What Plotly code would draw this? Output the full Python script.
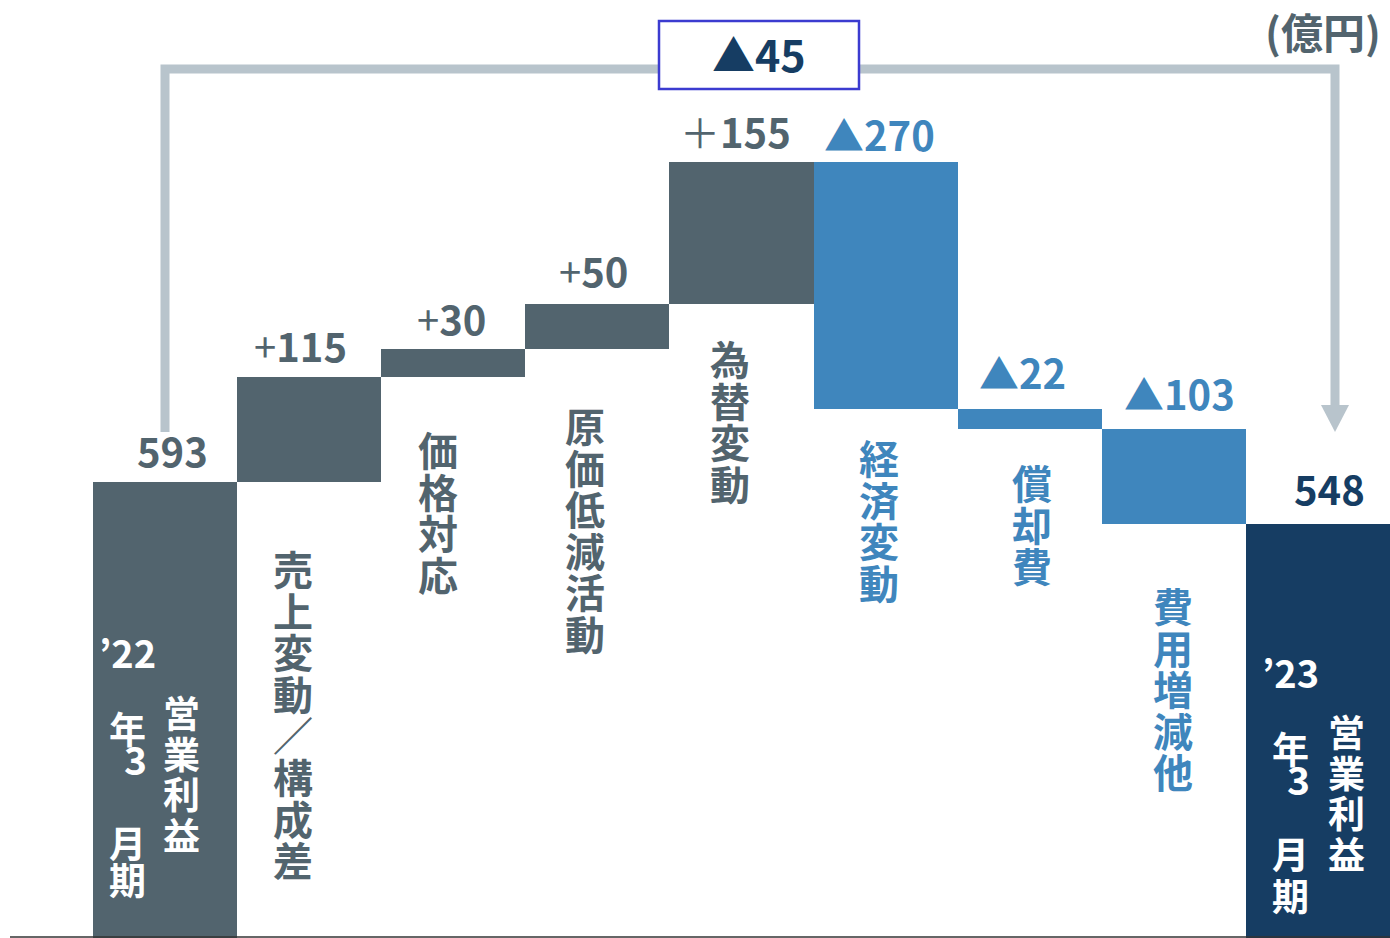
import plotly.graph_objects as go

# ---------------- data ----------------
categories = ["’22年3月期営業利益", "売上変動／構成差", "価格対応", "原価低減活動",
              "為替変動", "経済変動", "償却費", "費用増減他", "’23年3月期営業利益"]
start_value = 593
deltas = [115, 30, 50, 155, -270, -22, -103]
end_value = 548
value_labels = ["593", "+115", "+30", "+50", "＋155", "▲270", "▲22", "▲103", "548"]
total_change_label = "▲45"
unit_label = "(億円)"

# ---------------- styles ----------------
GRAY = "#52646e"
BLUE = "#3f86bd"
NAVY = "#163d63"
BRACKET = "#b8c4cc"
BOXLINE = "#3b3bd0"
FONT = "Noto Sans CJK JP"
W, H = 1390, 938

# waterfall geometry from the data
bases, heights, colors = [0], [start_value], [GRAY]
cum = start_value
for d in deltas:
    if d >= 0:
        bases.append(cum); heights.append(d); colors.append(GRAY)
    else:
        bases.append(cum + d); heights.append(-d); colors.append(BLUE)
    cum += d
bases.append(0); heights.append(end_value); colors.append(NAVY)
tops = [b + h for b, h in zip(bases, heights)]
xs = list(range(len(categories)))

fig = go.Figure()
fig.add_trace(go.Bar(x=xs, y=heights, base=bases, width=1.0,
                     marker=dict(color=colors, line=dict(width=0)),
                     hoverinfo="skip"))


def px(x):
    return x / W


def py(y):
    return 1 - y / H


annotations = []
label_colors = [GRAY] * 5 + [BLUE] * 3 + [NAVY]
label_dx = [7, -9, -2, -4, -6, -6, -7, 6, 12]
label_dy = [32, 32, 31, 34, 31, 28, 37, 36, 36]
for i, (t, top) in enumerate(zip(value_labels, tops)):
    if t[0] in "+＋":
        txt = t[0] + "<b>" + t[1:] + "</b>"
    else:
        txt = "<b>" + t + "</b>"
    annotations.append(dict(x=i, y=top, xref="x", yref="y", text=txt, showarrow=False,
                            xanchor="center", yanchor="middle",
                            xshift=label_dx[i], yshift=label_dy[i],
                            font=dict(family=FONT, size=40, color=label_colors[i])))


def vtext(chars, x, y0, pitch, color, size, weight="bold"):
    for k, ch in enumerate(chars):
        annotations.append(dict(x=px(x), y=py(y0 + k * pitch), xref="paper", yref="paper",
                                text=ch, showarrow=False, xanchor="center", yanchor="middle",
                                font=dict(family=FONT, size=size, color=color, weight=weight)))


# vertical category labels (outside bars)
cat_pos = {1: (293, 568), 2: (438, 449), 3: (585, 425), 4: (730, 358),
           5: (879, 457), 6: (1032, 482), 7: (1173, 605)}
for i, (x, y0) in cat_pos.items():
    vtext(list(categories[i]), x, y0, 41.6, label_colors[i], 40)


# labels inside the total bars
def inside_label(name, x_left, x_right, y_year, y_nen, y_3, y_tsuki, y_ki, y_ei):
    year = name[:3]
    annotations.append(dict(x=px(x_left), y=py(y_year), xref="paper", yref="paper",
                            text=year, showarrow=False, xanchor="center", yanchor="middle",
                            font=dict(family=FONT, size=38, color="white", weight="bold")))
    vtext([name[3]], x_left, y_nen, 0, "white", 37)
    vtext([name[4]], x_left + 8, y_3, 0, "white", 39)
    vtext([name[5]], x_left, y_tsuki, 0, "white", 37)
    vtext([name[6]], x_left, y_ki, 0, "white", 37)
    vtext(list(name[7:]), x_right, y_ei, 40.5, "white", 37)


inside_label(categories[0], 127, 181, 651, 728, 758, 842, 879, 712)
inside_label(categories[8], 1290, 1346, 671, 748, 778, 853, 895, 731)

# total change box and unit
annotations.append(dict(x=px(759), y=py(53), xref="paper", yref="paper",
                        text="<b>" + total_change_label + "</b>", showarrow=False,
                        xanchor="center", yanchor="middle",
                        font=dict(family=FONT, size=43, color=NAVY)))
annotations.append(dict(x=px(1323), y=py(30), xref="paper", yref="paper",
                        text="<b>" + unit_label + "</b>", showarrow=False,
                        xanchor="center", yanchor="middle",
                        font=dict(family=FONT, size=42, color=GRAY)))

shapes = [
    # bracket line
    dict(type="path", xref="paper", yref="paper",
         path=f"M {px(165)} {py(432)} L {px(165)} {py(69)} L {px(1335)} {py(69)} L {px(1335)} {py(406)}",
         line=dict(color=BRACKET, width=9), layer="above"),
    dict(type="path", xref="paper", yref="paper",
         path=f"M {px(1321)} {py(405)} L {px(1349)} {py(405)} L {px(1335)} {py(432)} Z",
         fillcolor=BRACKET, line=dict(width=0), layer="above"),
    # box
    dict(type="rect", xref="paper", yref="paper", x0=px(659), x1=px(859), y0=py(89), y1=py(21),
         fillcolor="white", line=dict(color=BOXLINE, width=2.5), layer="above"),
    # baseline
    dict(type="line", xref="paper", yref="paper", x0=px(10), x1=1, y0=py(937), y1=py(937),
         line=dict(color="#333333", width=1.5), layer="above"),
]

# y scale: value v -> pixel 1026.1 - 0.9168 v ; x: category step 144.1 px
fig.update_layout(
    width=W, height=H, margin=dict(l=0, r=0, t=0, b=0),
    paper_bgcolor="white", plot_bgcolor="white", showlegend=False,
    bargap=0,
    xaxis=dict(range=[-1.1453, 8.5], visible=False, fixedrange=True),
    yaxis=dict(range=[96.1, 1119.2], visible=False, fixedrange=True),
    annotations=annotations, shapes=shapes,
)

fig.write_html("out.html", config={"displayModeBar": False},
               post_script="document.body.style.margin='0';document.body.style.overflow='hidden';")
